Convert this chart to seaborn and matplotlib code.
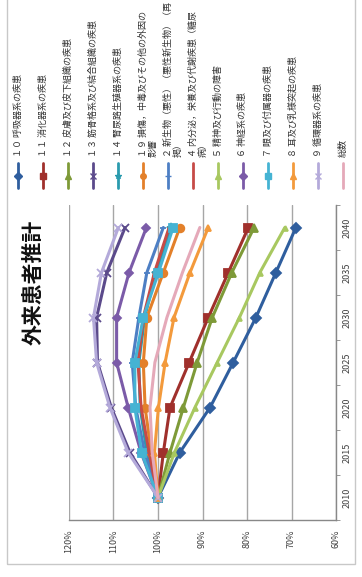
import numpy as np
import pandas as pd
import matplotlib
matplotlib.use("Agg")
import matplotlib.pyplot as plt
from matplotlib.lines import Line2D
from matplotlib.patches import Rectangle
from matplotlib.ticker import FixedLocator
import seaborn as sns

sns.set_style("white")
plt.rcParams["font.family"] = ["Noto Sans CJK JP", "DejaVu Sans"]

# ---- data -------------------------------------------------------------
years = [2010, 2015, 2020, 2025, 2030, 2035, 2040]

labels = [
    "１０ 呼吸器系の疾患",
    "１１ 消化器系の疾患",
    "１２ 皮膚及び皮下組織の疾患",
    "１３ 筋骨格系及び結合組織の疾患",
    "１４ 腎尿路生殖器系の疾患",
    "１９ 損傷，中毒及びその他の外因の\n影響",
    "２ 新生物（悪性）（悪性新生物）（再\n掲）",
    "４ 内分泌，栄養及び代謝疾患（糖尿\n病）",
    "５ 精神及び行動の障害",
    "６ 神経系の疾患",
    "７ 眼及び付属器の疾患",
    "８ 耳及び乳様突起の疾患",
    "９ 循環器系の疾患",
    "総数",
]

respiratory = [100, 95.1, 88.3, 83.1, 78.0, 73.5, 69.0]
digestive   = [100, 98.8, 97.3, 93.0, 88.7, 84.2, 79.7]
skin        = [100, 97.3, 94.3, 91.2, 87.8, 83.4, 78.4]
musculo     = [100, 106.3, 110.5, 113.6, 113.8, 111.5, 107.4]
genitourin  = [100, 102.5, 104.0, 104.3, 103.0, 100.5, 97.0]
injury      = [100, 101.5, 102.9, 103.3, 102.5, 98.8, 95.1]
neoplasm    = [100, 103.0, 105.0, 105.8, 104.3, 102.5, 98.8]
endocrine   = [100, 102.0, 103.8, 104.5, 103.3, 100.8, 97.5]
mental      = [100, 96.3, 91.7, 86.7, 81.7, 77.1, 71.5]
nervous     = [100, 103.8, 106.7, 109.3, 109.3, 106.5, 102.6]
eye         = [100, 103.7, 105.2, 105.2, 103.3, 99.9, 96.6]
ear         = [100, 100.8, 99.9, 98.4, 96.4, 92.8, 88.7]
circulatory = [100, 106.7, 110.8, 113.8, 114.5, 112.7, 108.9]
total       = [100, 101.3, 101.8, 100.7, 98.0, 94.5, 90.6]

series = [respiratory, digestive, skin, musculo, genitourin, injury,
          neoplasm, endocrine, mental, nervous, eye, ear, circulatory, total]

colors = ["#2F5E9E", "#A0302C", "#7E9A38", "#5B4A8B", "#2A9BAE", "#E3802A",
          "#4D7FC4", "#C64B47", "#A8C860", "#7B5BA8", "#45B3D3", "#F39A3C",
          "#B4AADA", "#E5A9B9"]
markers = ["D", "s", "^", "x", "*", "o",
           "_", None, "^", "D", "s", "^", "x", None]
msizes = [5, 5.5, 5.5, 5.5, 6.5, 5.5, 4, 0, 3.5, 4.5, 5.5, 5, 5.5, 0]

# ---- figure -------------------------------------------------------------
W, H = 362, 577
fig = plt.figure(figsize=(W / 100, H / 100), dpi=100)
fig.patch.set_facecolor("white")
ax = fig.add_axes([69 / W, 57 / H, 267 / W, 315 / H])

for lab, vals, col, mk, ms in zip(labels, series, colors, markers, msizes):
    df = pd.DataFrame({"year": years, "ratio": np.array(vals) / 100.0})
    sns.lineplot(data=df, x="ratio", y="year", orient="y", ax=ax,
                 color=col, linewidth=2.2, marker=mk, markersize=ms,
                 markeredgecolor=col, markeredgewidth=1.3)

# value axis (horizontal, reversed)
vticks = [1.2, 1.1, 1.0, 0.9, 0.8, 0.7, 0.6]
ax.set_xlim(1.2, 0.6)
ax.set_xticks(vticks)
ax.set_xticklabels([f"{int(round(v * 100))}%" for v in vticks], rotation=90)
ax.xaxis.grid(True, color="#a6a6a6", linewidth=1.0)
ax.yaxis.grid(False)

# category axis (years) on the right
ax.set_ylim(2007.5, 2042.5)
ax.set_yticks(years)
ax.set_yticklabels([str(y) for y in years], rotation=90, va="center")
ax.yaxis.set_minor_locator(FixedLocator([2007.5 + 5 * k for k in range(8)]))
ax.yaxis.tick_right()
ax.tick_params(axis="y", which="major", length=0, pad=5,
               labelsize=6.5, labelcolor="#404040")
ax.tick_params(axis="y", which="minor", length=3, color="#888888", right=True)
ax.tick_params(axis="x", length=3, color="#888888", pad=4,
               labelsize=6.5, labelcolor="#404040")
ax.set_xlabel("")
ax.set_ylabel("")
for side in ["top", "left"]:
    ax.spines[side].set_visible(False)
for side in ["right", "bottom"]:
    ax.spines[side].set_color("#888888")
    ax.spines[side].set_linewidth(1.0)

# title
fig.text(33 / W, 1 - 282 / H, "外来患者推計", rotation=90, fontsize=15,
         fontweight="bold", ha="center", va="center", color="#111111")

# legend across the top
for i, (lab, col, mk) in enumerate(zip(labels, colors, markers)):
    xc = (18 + 25 * i) / W
    fig.add_artist(Line2D([xc, xc], [1 - 163 / H, 1 - 188 / H],
                          transform=fig.transFigure, color=col, lw=2))
    if mk is not None:
        fig.add_artist(Line2D([xc], [1 - 176 / H], transform=fig.transFigure,
                              color=col, marker=mk, markersize=4,
                              markeredgecolor=col, linestyle="none"))
    for j, line in enumerate(lab.split("\n")):
        fig.text(xc + j * 10 / W, 1 - 157 / H, line, rotation=90,
                 fontsize=6.5, ha="center", va="bottom", color="#333333")

# chart border
fig.add_artist(Rectangle((7 / W, 13 / H), (355 - 7) / W, 1.0,
                         transform=fig.transFigure, fill=False,
                         edgecolor="#c8c8c8", linewidth=1.0))

fig.savefig("out.png", dpi=100)
